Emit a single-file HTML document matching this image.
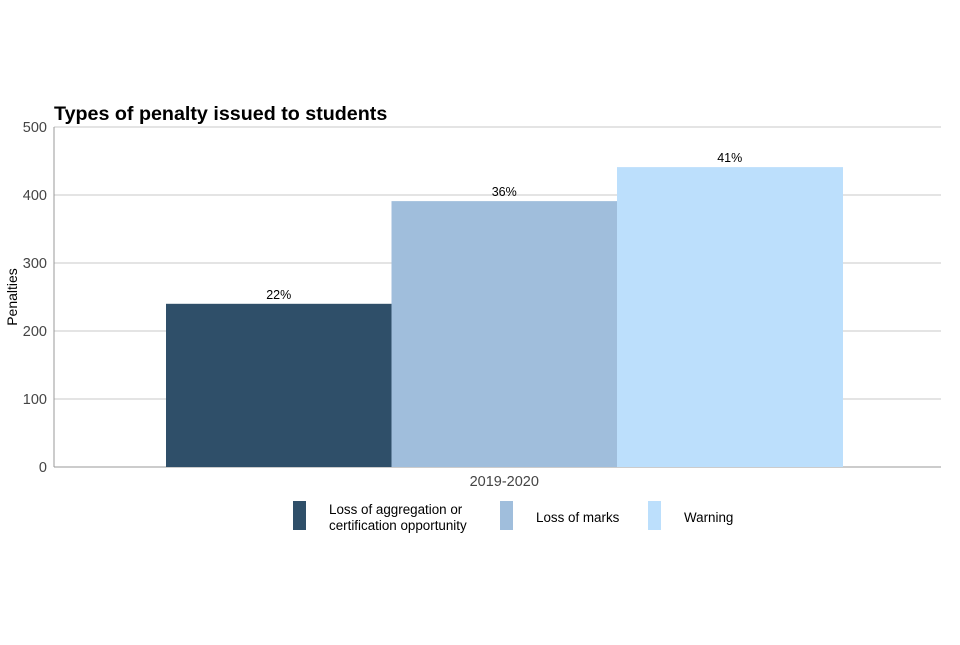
<!DOCTYPE html>
<html><head><meta charset="utf-8"><style>
body{margin:0;background:#fff;width:960px;height:640px;overflow:hidden;font-family:"Liberation Sans",sans-serif}
</style></head><body>
<svg id="chart" width="960" height="640" xmlns="http://www.w3.org/2000/svg" font-family="Liberation Sans, sans-serif">
<text x="54" y="120" font-size="19.7" font-weight="bold" fill="#000">Types of penalty issued to students</text>
<text transform="translate(17,297) rotate(-90)" text-anchor="middle" font-size="14" fill="#000">Penalties</text>
<g id="grid"></g><g id="bars"></g><g id="legend"></g>
</svg>
<script>
const categories=["Loss of aggregation or certification opportunity","Loss of marks","Warning"];
const values=[240,391,441];
const pctLabels=["22%","36%","41%"];
const yTicks=[0,100,200,300,400,500];
const group="2019-2020";
const colors=["#2f4f69","#a0bedc","#bcdffc"];
const NS="http://www.w3.org/2000/svg";
const x0=54,x1=941,yTop=127,yBot=467,yMax=500;
const y=v=>yBot-(v/yMax)*(yBot-yTop);
function mk(t,a,p){const e=document.createElementNS(NS,t);for(const k in a)e.setAttribute(k,a[k]);p.appendChild(e);return e;}
const grid=document.getElementById('grid');
yTicks.forEach(t=>{
  const l=mk('line',{x1:x0,x2:x1,y1:y(t),y2:y(t),stroke:t===0?'#999':'#c8c8c8','stroke-width':1},grid);
  
  
  const tx=mk('text',{x:47,y:y(t)+5,'text-anchor':'end','font-size':14.5,fill:'#444'},grid);
  tx.textContent=t;
  
  
});
const ax=mk('line',{x1:x0,x2:x0,y1:yTop,y2:yBot,stroke:'#999'},grid);


const bars=document.getElementById('bars');
const bw=225.5,start=166;
values.forEach((v,i)=>{
  const bx=start+i*bw;
  const r=mk('rect',{x:bx,y:y(v),width:bw+0.5,height:yBot-y(v),fill:colors[i]},bars);
  
  
  const t=mk('text',{x:bx+bw/2,y:y(v)-5,'text-anchor':'middle','font-size':12.5,fill:'#000'},bars);
  t.textContent=pctLabels[i];
  
  
});
const gl=mk('text',{x:start+1.5*bw,y:486,'text-anchor':'middle','font-size':14.5,fill:'#444'},bars);
gl.textContent=group;


const leg=document.getElementById('legend');
const sw=[293,500,648],tx=[329,536,684];
categories.forEach((c,i)=>{
  const r=mk('rect',{x:sw[i],y:501,width:13,height:29,fill:colors[i]},leg);
  
  
  const t=mk('text',{x:tx[i],'font-size':13.4,fill:'#000'},leg);
  
  
  if(i===0){
    const a=mk('tspan',{x:tx[i],y:514},t);a.textContent="Loss of aggregation or";
    const b=mk('tspan',{x:tx[i],y:530},t);b.textContent="certification opportunity";
  } else {t.setAttribute('y',522);t.textContent=c;}
});
</script>
</body></html>
